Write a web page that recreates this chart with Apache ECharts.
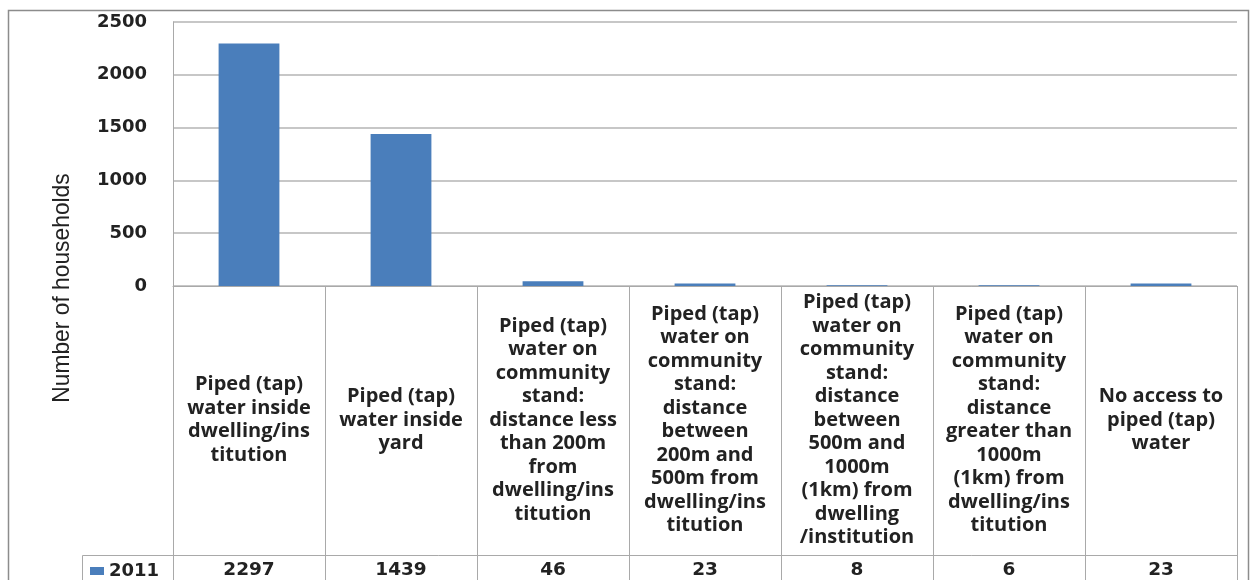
<!DOCTYPE html>
<html>
<head>
<meta charset="utf-8">
<script src="https://cdn.jsdelivr.net/npm/echarts@6/dist/echarts.min.js"></script>
<style>
  html, body { margin: 0; padding: 0; background: #fff; }
  #chart { width: 1253px; height: 580px; }
</style>
</head>
<body>
<div id="chart"></div>
<script>
// Household water access, 2011
const categories = [
  'Piped (tap)\nwater inside\ndwelling/ins\ntitution',
  'Piped (tap)\nwater inside\nyard',
  'Piped (tap)\nwater on\ncommunity\nstand:\ndistance less\nthan 200m\nfrom\ndwelling/ins\ntitution',
  'Piped (tap)\nwater on\ncommunity\nstand:\ndistance\nbetween\n200m and\n500m from\ndwelling/ins\ntitution',
  'Piped (tap)\nwater on\ncommunity\nstand:\ndistance\nbetween\n500m and\n1000m\n(1km) from\ndwelling\n/institution',
  'Piped (tap)\nwater on\ncommunity\nstand:\ndistance\ngreater than\n1000m\n(1km) from\ndwelling/ins\ntitution',
  'No access to\npiped (tap)\nwater'
];
const seriesName = '2011';
const values2011 = [2297, 1439, 46, 23, 8, 6, 23];
const yTicks = [0, 500, 1000, 1500, 2000, 2500];

const gridColor = '#b4b4b4';
const tableColor = '#a9a9a9';
const textColor = '#222222';
const barColor = '#4a7ebb';
const numFont = 'DejaVu Sans';
const labelFont = 'Open Sans';

const chart = echarts.init(document.getElementById('chart'), null, { renderer: 'canvas' });

chart.setOption({
  animation: false,
  backgroundColor: '#fff',
  grid: { left: 173, right: 16, top: 22, bottom: 294, containLabel: false },
  legend: {
    data: [seriesName],
    left: 90, top: 562,
    icon: 'rect', itemWidth: 14, itemHeight: 8, itemGap: 4,
    padding: 0,
    textStyle: { fontFamily: numFont, fontWeight: 'bold', fontSize: 18, color: textColor, padding: [0, 0, 0, 0] }
  },
  xAxis: [
    {
      type: 'category',
      data: categories,
      axisLine: { show: true, lineStyle: { color: tableColor, width: 1 } },
      axisTick: { show: true, inside: false, length: 294, lineStyle: { color: tableColor, width: 1 } },
      axisLabel: {
        interval: 0,
        margin: 134,
        verticalAlign: 'middle',
        align: 'center',
        fontFamily: labelFont,
        fontWeight: 'bold',
        fontSize: 20,
        lineHeight: 23.5,
        color: textColor
      },
      splitLine: { show: false }
    },
    {
      // data-table row holding the series values
      type: 'category',
      data: categories,
      position: 'bottom',
      offset: 269,
      axisLine: { show: true, lineStyle: { color: tableColor, width: 1 } },
      axisTick: { show: false },
      axisLabel: {
        interval: 0,
        margin: 15,
        verticalAlign: 'middle',
        fontFamily: numFont,
        fontWeight: 'bold',
        fontSize: 18.5,
        color: textColor,
        formatter: (v, i) => String(values2011[i])
      }
    }
  ],
  yAxis: {
    type: 'value',
    min: yTicks[0],
    max: yTicks[yTicks.length - 1],
    interval: yTicks[1] - yTicks[0],
    axisLine: { show: true, lineStyle: { color: tableColor } },
    axisTick: { show: false },
    axisLabel: {
      margin: 26,
      fontFamily: numFont,
      fontWeight: 'bold',
      fontSize: 18,
      color: textColor,
      formatter: (v) => String(v)
    },
    splitLine: { show: true, lineStyle: { color: gridColor, width: 1.5 } }
  },
  series: [{
    name: seriesName,
    type: 'bar',
    data: values2011,
    barWidth: '40%',
    itemStyle: { color: barColor }
  }],
  graphic: [
    {
      // outer chart frame
      type: 'rect', silent: true, z: -1,
      shape: { x: 8.5, y: 10.5, width: 1240, height: 600 },
      style: { fill: null, stroke: '#8c8c8c', lineWidth: 1.5 }
    },
    {
      // legend cell borders of the data table
      type: 'polyline', silent: true,
      shape: { points: [[82.5, 590], [82.5, 555.5], [173, 555.5]] },
      style: { fill: null, stroke: tableColor, lineWidth: 1 }
    },
    {
      type: 'text', silent: true,
      x: 62, y: 288, rotation: Math.PI / 2, scaleX: 0.95,
      style: {
        text: 'Number of households',
        fontFamily: 'Liberation Sans',
        fontSize: 24,
        fill: textColor,
        align: 'center',
        verticalAlign: 'middle'
      }
    }
  ]
});
</script>
</body>
</html>
